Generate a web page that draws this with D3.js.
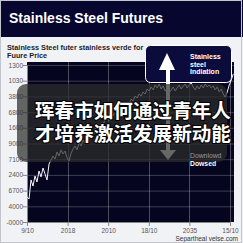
<!DOCTYPE html>
<html>
<head>
<meta charset="utf-8">
<script src="https://cdn.jsdelivr.net/npm/d3@7"></script>
<style>
  html, body { margin: 0; padding: 0; background: #f1f2f5; }
  svg { display: block; font-family: 'Liberation Sans', Arial, sans-serif; }
</style>
</head>
<body>
<div id="chart"></div>
<script>
// Tick labels as printed on the chart (bottom to top)
const yTickLabels = ['-0000', '4000', '6700', '2400', '7100', '9000', '1600', '6800', '3800', '1030', '1300']
const xTickLabels = ['9/10', '2018', '2010', '18/10', '2035', '15/10']

// Price series, in y-tick units left to right
const prices = [
  1.59, 1.46, 2.68, 2.29, 2.93, 2.55, 3.25, 2.87, 3.44, 3.06, 2.68, 3.69, 3.95, 4.20, 4.01, 4.46,
  4.20, 4.59, 4.33, 4.52, 4.08, 3.89, 4.39, 4.65, 4.84, 4.59, 5.03, 4.84, 5.22, 5.03, 5.41, 5.29,
  5.67, 5.48, 5.92, 6.05, 5.86, 6.31, 6.18, 6.56, 6.69, 6.43, 6.88, 6.75, 7.07, 6.94, 7.26, 7.13,
  7.45, 7.32, 7.64, 7.52, 7.83, 7.71, 8.03, 7.90, 8.15, 8.03, 8.28, 8.15, 8.47, 8.34, 8.60, 8.41,
  8.73, 8.54, 8.79, 8.47, 8.66, 8.34, 8.54, 8.22, 8.41, 8.60, 8.34, 8.54, 8.73, 8.47, 8.66, 8.79,
  8.54, 8.73, 8.85, 8.60, 8.41, 8.66, 8.47, 8.73, 8.54, 8.79, 8.60, 8.73, 8.54, 8.66, 8.41, 8.60,
  8.28, 8.47, 8.15, 7.96, 8.28, 8.73, 9.04, 9.43,
]

const captionLines = ['珲春市如何通过青年人', '才培养激活发展新动能']
const calloutLines = ['Stainless', 'steel', 'Indiation']

const W = 243, H = 243
const plot = { left: 27, right: 234, top: 62, bottom: 222 }

const svg = d3.select('#chart').append('svg')
  .attr('width', W)
  .attr('height', H)

// Backgrounds
svg.append('rect').attr('width', W).attr('height', H).attr('fill', '#f1f2f5')
svg.append('rect').attr('width', W).attr('height', 37).attr('fill', '#06062f')

svg.append('text')
  .attr('x', 9).attr('y', 23)
  .attr('fill', '#fff')
  .attr('font-size', 14).attr('font-weight', 700)
  .text('Stainless Steel Futures')

// Subtitle
svg.append('text')
  .attr('x', 7).attr('y', 50)
  .attr('fill', '#1c1c28')
  .attr('font-size', 7.3).attr('font-weight', 700)
  .selectAll('tspan')
  .data(['Stainless Steel futer stainless verde for', 'Fuure Price'])
  .join('tspan')
  .attr('x', 7)
  .attr('dy', (d, i) => i ? 8 : 0)
  .text(d => d)

// Scales
const x = d3.scaleLinear().domain([0, 5]).range([27, 230])
const y = d3.scaleLinear().domain([0, 10]).range([plot.bottom, 65])
const xi = d3.scaleLinear().domain([0, prices.length - 1]).range([x(0), x(5.08)])

// Plot area
svg.append('rect')
  .attr('x', plot.left).attr('y', plot.top)
  .attr('width', plot.right - plot.left).attr('height', plot.bottom - plot.top)
  .attr('fill', '#05051f')

// Grid
svg.append('g')
  .selectAll('line')
  .data(d3.range(1, 11))
  .join('line')
  .attr('x1', plot.left).attr('x2', plot.right)
  .attr('y1', d => y(d) + 0.5).attr('y2', d => y(d) + 0.5)
  .attr('stroke', '#fff').attr('stroke-opacity', 0.22)

svg.append('g')
  .selectAll('line')
  .data(d3.range(1, 6))
  .join('line')
  .attr('x1', d => Math.round(x(d)) + 0.5).attr('x2', d => Math.round(x(d)) + 0.5)
  .attr('y1', plot.top).attr('y2', plot.bottom)
  .attr('stroke', '#fff').attr('stroke-opacity', 0.28)

// Axes
const yAxis = svg.append('g')
  .attr('transform', `translate(${plot.left},0)`)
  .call(d3.axisLeft(y).tickValues(d3.range(0, 11)).tickSize(4).tickFormat(d => yTickLabels[d]))
const xAxis = svg.append('g')
  .attr('transform', `translate(0,${plot.bottom})`)
  .call(d3.axisBottom(x).tickValues(d3.range(0, 6)).tickSize(4).tickFormat(d => xTickLabels[d]))

for (const ax of [yAxis, xAxis]) {
  ax.select('.domain').attr('stroke', '#888')
  ax.selectAll('.tick line').attr('stroke', '#888')
  ax.selectAll('.tick text')
    .attr('fill', '#555')
    .attr('font-size', 6.5)
    .attr('font-family', "'Liberation Sans', Arial, sans-serif")
}
yAxis.selectAll('.tick text').attr('x', -4)
xAxis.selectAll('.tick text').attr('y', 6)

// Price line
svg.append('path')
  .datum(prices)
  .attr('fill', 'none')
  .attr('stroke', '#f4f4f8')
  .attr('stroke-width', 1)
  .attr('stroke-linejoin', 'round')
  .attr('d', d3.line().x((d, i) => xi(i)).y(d => y(d)))

// Callout box with arrow
svg.append('rect')
  .attr('x', 145.5).attr('y', 45.5)
  .attr('width', 86).attr('height', 37)
  .attr('rx', 5)
  .attr('fill', '#0b0b3c')
  .attr('stroke', '#fff').attr('stroke-width', 1)

svg.append('path')
  .attr('d', 'M167,53 L175,70 L170,70 L170,150 L176,150 L168,160 L160,150 L166,150 L166,70 L159,70 Z')
  .attr('fill', '#fff')

svg.append('text')
  .attr('fill', '#fff')
  .attr('font-size', 7).attr('font-weight', 700)
  .selectAll('tspan')
  .data(calloutLines)
  .join('tspan')
  .attr('x', 190)
  .attr('y', (d, i) => 59 + i * 7.5)
  .text(d => d)

// Caption overlay
svg.append('rect')
  .attr('x', 17).attr('y', 84)
  .attr('width', 210).attr('height', 78)
  .attr('rx', 9)
  .attr('fill', 'rgba(45,45,45,0.72)')

svg.append('text')
  .attr('x', 190).attr('y', 158)
  .attr('fill', '#9a9aa2')
  .attr('font-size', 6.8)
  .text('Downlowd')

svg.append('text')
  .attr('x', 190).attr('y', 166)
  .attr('fill', '#fff')
  .attr('font-size', 6.8).attr('font-weight', 700)
  .text('Dowsed')

svg.append('g')
  .selectAll('text')
  .data(captionLines)
  .join('text')
  .attr('x', 35)
  .attr('y', (d, i) => 118 + i * 23)
  .attr('fill', '#fff')
  .attr('stroke', '#000').attr('stroke-width', 2)
  .attr('paint-order', 'stroke')
  .attr('font-family', "'Noto Sans CJK SC', sans-serif")
  .attr('font-size', 19.6).attr('font-weight', 700)
  .text(d => d)

// Source
svg.append('text')
  .attr('x', 238).attr('y', 241)
  .attr('text-anchor', 'end')
  .attr('fill', '#333')
  .attr('font-size', 6.5)
  .text('Separtheal velse.com')

// Frame
svg.append('rect')
  .attr('x', 0.5).attr('y', 0.5)
  .attr('width', 241).attr('height', 242)
  .attr('fill', 'none')
  .attr('stroke', '#c4c4cc')
</script>
</body>
</html>
